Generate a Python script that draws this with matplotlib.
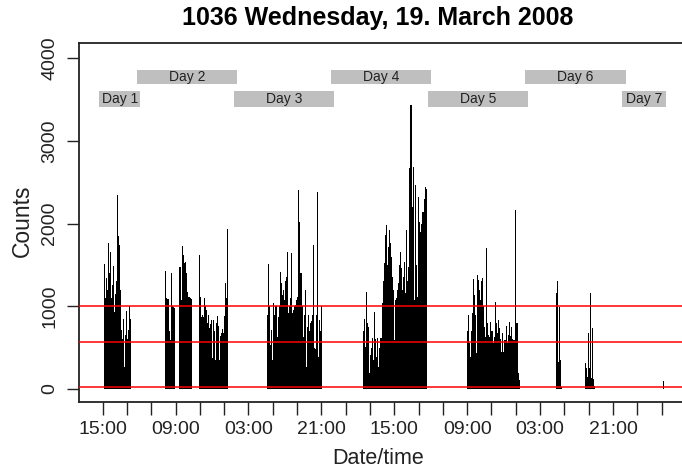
import matplotlib
matplotlib.use("Agg")
import matplotlib.pyplot as plt
from matplotlib.patches import Rectangle

plt.rcParams["font.family"] = ["Liberation Sans", "DejaVu Sans"]

# activity bouts: start hour (relative to first 15:00 tick) and counts per 15-min bin
bin_hours = 0.25
bout_starts = [0.25, 15.5, 18.75, 23.75, 40.5, 64.25, 90.0, 112.0, 119.0, 138.25]
bout1 = [1510, 1100, 1340, 1200, 1764, 1400, 1655, 1100, 1257, 1486, 930, 1150, 1300,
         2344, 1850, 1740, 1200, 713, 600, 846, 266, 650, 943, 600, 713, 1000, 850]
bout2 = [1430, 1100, 1090, 700, 590, 1400, 1000, 990, 980]
bout3 = [1475, 1480, 1080, 1732, 1620, 1520, 1540, 1400, 1170, 1110, 1110, 1100, 1090]
bout4 = [1620, 1110, 870, 900, 870, 1100, 1000, 950, 800, 900, 740, 780, 840, 375, 840,
         700, 350, 800, 880, 760, 350, 640, 680, 720, 680, 880, 1280, 1100, 1934]
bout5 = [900, 1510, 1000, 530, 713, 350, 1040, 900, 1000, 1000, 630, 870, 1000, 1410,
         1280, 1140, 1200, 1075, 1300, 1350, 1655, 920, 1000, 1100, 1640, 915, 955, 1000,
         1010, 1075, 1110, 2405, 2020, 1400, 1400, 1000, 630, 900, 1200, 266, 750, 900,
         700, 800, 820, 900, 1740, 500, 480, 900, 2380, 390, 835, 700, 1000]
bout6 = [700, 846, 510, 1170, 800, 750, 190, 410, 500, 615, 350, 930, 600, 390, 615, 266,
         500, 615, 615, 1040, 1300, 1520, 1860, 1980, 1500, 1716, 1920, 1764, 1600, 1350,
         1200, 590, 1075, 1100, 1200, 1280, 1500, 1655, 1460, 1200, 1350, 1535, 1160, 1920,
         1300, 1475, 2670, 3430, 2200, 2680, 1075, 2465, 1500, 1110, 2320, 2020, 1900, 2000,
         2140, 2140, 2300, 2440, 2420]
bout7 = [700, 895, 556, 387, 700, 920, 1330, 1136, 900, 435, 1380, 1317, 1200, 1075, 1300,
         1340, 1000, 750, 630, 1700, 800, 650, 630, 810, 700, 556, 630, 1050, 800, 677, 835,
         737, 600, 447, 677, 447, 590, 590, 760, 556, 650, 810, 637, 750, 600, 590, 590,
         2160, 800, 800, 190, 110]
bout8 = [1160, 1300, 325, 990, 350, 30]
bout9 = [315, 250, 145, 677, 254, 1160, 130, 737, 120, 40]
bout10 = [97]
bouts = [bout1, bout2, bout3, bout4, bout5, bout6, bout7, bout8, bout9, bout10]

thresholds = [25, 572, 1000]

day_labels = ["Day 1", "Day 2", "Day 3", "Day 4", "Day 5", "Day 6", "Day 7"]
day_start = [-0.9, 8.5, 32.4, 56.4, 80.3, 104.3, 128.2]
day_end = [9.3, 33.1, 57.1, 81.1, 105.0, 129.2, 139.1]

tick_hours = list(range(0, 145, 6))
tick_names = ["15:00", "09:00", "03:00", "21:00", "15:00", "09:00", "03:00", "21:00", ""]


W, H = 682, 471
fig = plt.figure(figsize=(W / 100, H / 100), dpi=100)
# plot box runs past the right edge of the picture, as in the cropped original
ax = fig.add_axes([79 / W, (H - 401.7) / H, (700 - 79) / W, (401.7 - 43.3) / H])

for start, counts in zip(bout_starts, bouts):
    t = [start + i * bin_hours for i in range(len(counts))]
    ax.bar(t, counts, width=bin_hours, align="edge", color="black", linewidth=0)

for y in thresholds:
    ax.axhline(y, color="red", lw=1.1, zorder=3)

for i, (lab, s, e) in enumerate(zip(day_labels, day_start, day_end)):
    if i % 2 == 0:
        y0, y1 = 3410, 3600
    else:
        y0, y1 = 3685, 3855
    ax.add_patch(Rectangle((s, y0), e - s, y1 - y0, facecolor="#bfbfbf",
                           edgecolor="none", zorder=4))
    ax.text((s + e) / 2, (y0 + y1) / 2, lab, ha="center", va="center",
            fontsize=10, color="#222222", zorder=5)

ax.set_xlim(-5.85, -5.85 + (700 - 79) / 4.05)
ax.set_ylim(-153, 4178)

ax.set_xticks(tick_hours)
ax.set_xticklabels([tick_names[i // 3] if i % 3 == 0 else "" for i in range(len(tick_hours))])
ax.set_yticks([0, 1000, 2000, 3000, 4000])
ax.set_yticklabels(["0", "1000", "2000", "3000", "4000"], rotation=90, va="center")
ax.tick_params(direction="out", length=9, width=1, labelsize=14, colors="#222222", pad=5)
ax.tick_params(axis="y", pad=6)
for side in ["top", "bottom", "left", "right"]:
    ax.spines[side].set_linewidth(1.3)
    ax.spines[side].set_color("#222222")

fig.text(378 / W, 1 - 18 / H, "1036 Wednesday, 19. March 2008", ha="center", va="center",
         fontsize=18, fontweight="bold")
fig.text(378 / W, 1 - 458 / H, "Date/time", ha="center", va="center", fontsize=15.5,
         color="#222222")
fig.text(22 / W, 1 - 221 / H, "Counts", ha="center", va="center", rotation=90,
         fontsize=16.5, color="#222222")

fig.savefig("out.png", dpi=100)
